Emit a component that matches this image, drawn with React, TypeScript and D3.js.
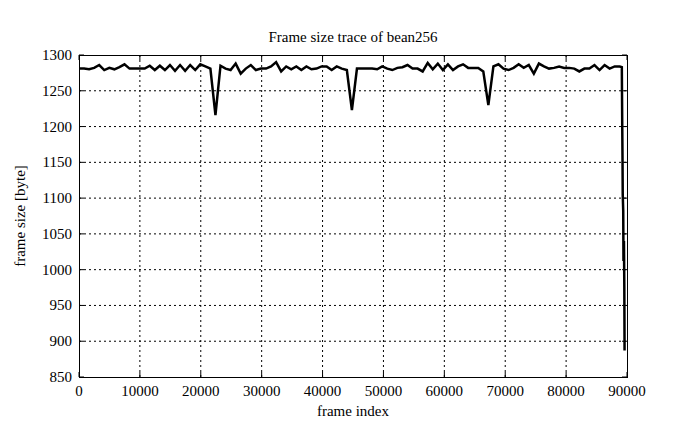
import React, { useEffect, useRef } from 'react';
import * as d3 from 'd3';

// frame sizes sampled every STEP frames, starting at frame 0
const STEP = 830;
const frameSizes = [
  1281, 1281, 1280, 1282, 1286, 1279, 1282, 1280, 1283, 1287,
  1281, 1281, 1281, 1281, 1285, 1279, 1285, 1279, 1286, 1278,
  1286, 1278, 1286, 1279, 1287, 1284, 1281, 1216, 1285, 1281,
  1279, 1288, 1274, 1281, 1286, 1279, 1281, 1281, 1284, 1290,
  1277, 1284, 1280, 1284, 1279, 1284, 1280, 1281, 1284, 1284,
  1279, 1284, 1281, 1279, 1223, 1281, 1281, 1281, 1281, 1280,
  1284, 1281, 1279, 1282, 1283, 1286, 1281, 1281, 1277, 1289,
  1280, 1288, 1279, 1287, 1279, 1284, 1287, 1282, 1282, 1282,
  1277, 1230, 1284, 1287, 1281, 1279, 1282, 1287, 1282, 1286,
  1274, 1288, 1284, 1281, 1282, 1284, 1282, 1282, 1281, 1277,
  1281, 1281, 1286, 1279, 1286, 1281, 1284, 1284,
];

// the last frames drop off sharply
const tailFrames = [89150, 89180, 89220, 89260, 89300, 89380, 89420, 89500, 89560, 89600];
const tailSizes = [1283, 1245, 1200, 1160, 1105, 1082, 1012, 1040, 975, 887];

const xTicks = [0, 10000, 20000, 30000, 40000, 50000, 60000, 70000, 80000, 90000];
const yTicks = [850, 900, 950, 1000, 1050, 1100, 1150, 1200, 1250, 1300];

const W = 695;
const H = 429;
const FONT = '"Liberation Serif", "Times New Roman", serif';

const App: React.FC = () => {
  const svgRef = useRef<SVGSVGElement>(null);

  useEffect(() => {
    if (!svgRef.current) return;
    const svg = d3.select(svgRef.current);
    svg.selectAll('*').remove();

    const margin = { top: 55, right: 68, bottom: 52, left: 79 };
    const width = W - margin.left - margin.right;
    const height = H - margin.top - margin.bottom;

    const x = d3.scaleLinear().domain([0, 90000]).range([0, width]);
    const y = d3.scaleLinear().domain([850, 1300]).range([height, 0]);

    const points: [number, number][] = frameSizes
      .map((v, i) => [i * STEP, v] as [number, number])
      .concat(tailFrames.map((f, i) => [f, tailSizes[i]] as [number, number]));

    const g = svg.append('g').attr('transform', `translate(${margin.left},${margin.top})`);

    // dotted grid
    g.append('g')
      .selectAll('line')
      .data(xTicks.slice(1, -1))
      .enter()
      .append('line')
      .attr('x1', d => x(d))
      .attr('x2', d => x(d))
      .attr('y1', 0)
      .attr('y2', height)
      .attr('stroke', '#000')
      .attr('stroke-width', 1)
      .attr('stroke-dasharray', '2,3');

    g.append('g')
      .selectAll('line')
      .data(yTicks.slice(1, -1))
      .enter()
      .append('line')
      .attr('x1', 0)
      .attr('x2', width)
      .attr('y1', d => y(d))
      .attr('y2', d => y(d))
      .attr('stroke', '#000')
      .attr('stroke-width', 1)
      .attr('stroke-dasharray', '2,3');

    // inward ticks on all four sides
    const tickLen = 5;
    const ticks = g.append('g').attr('stroke', '#000').attr('stroke-width', 1);
    xTicks.forEach(t => {
      ticks.append('line').attr('x1', x(t)).attr('x2', x(t)).attr('y1', height).attr('y2', height - tickLen);
      ticks.append('line').attr('x1', x(t)).attr('x2', x(t)).attr('y1', 0).attr('y2', tickLen);
    });
    yTicks.forEach(t => {
      ticks.append('line').attr('x1', 0).attr('x2', tickLen).attr('y1', y(t)).attr('y2', y(t));
      ticks.append('line').attr('x1', width).attr('x2', width - tickLen).attr('y1', y(t)).attr('y2', y(t));
    });

    // frame
    g.append('rect')
      .attr('x', 0.5)
      .attr('y', 0.5)
      .attr('width', width)
      .attr('height', height)
      .attr('fill', 'none')
      .attr('stroke', '#000')
      .attr('stroke-width', 1);

    // trace
    const line = d3.line<[number, number]>()
      .x(d => x(d[0]))
      .y(d => y(d[1]));

    g.append('path')
      .datum(points)
      .attr('d', line)
      .attr('fill', 'none')
      .attr('stroke', '#000')
      .attr('stroke-width', 2.5)
      .attr('stroke-linejoin', 'miter');

    // tick labels
    g.append('g')
      .selectAll('text')
      .data(xTicks)
      .enter()
      .append('text')
      .attr('x', d => x(d))
      .attr('y', height + 19)
      .attr('text-anchor', 'middle')
      .text(d => d3.format('d')(d));

    g.append('g')
      .selectAll('text')
      .data(yTicks)
      .enter()
      .append('text')
      .attr('x', -7)
      .attr('y', d => y(d) + 5)
      .attr('text-anchor', 'end')
      .text(d => d3.format('d')(d));

    // titles
    svg.append('text')
      .attr('x', margin.left + width / 2)
      .attr('y', 42)
      .attr('text-anchor', 'middle')
      .text('Frame size trace of bean256');

    svg.append('text')
      .attr('x', margin.left + width / 2)
      .attr('y', 416)
      .attr('text-anchor', 'middle')
      .text('frame index');

    svg.append('text')
      .attr('transform', `translate(25,${margin.top + height / 2}) rotate(-90)`)
      .attr('text-anchor', 'middle')
      .text('frame size [byte]');

    svg.selectAll('text')
      .attr('font-family', FONT)
      .attr('font-size', 15)
      .attr('fill', '#000');
  }, []);

  return (
    <svg
      ref={svgRef}
      width={W}
      height={H}
      style={{ position: 'absolute', left: 0, top: 0, background: '#fff' }}
    />
  );
};

export default App;
